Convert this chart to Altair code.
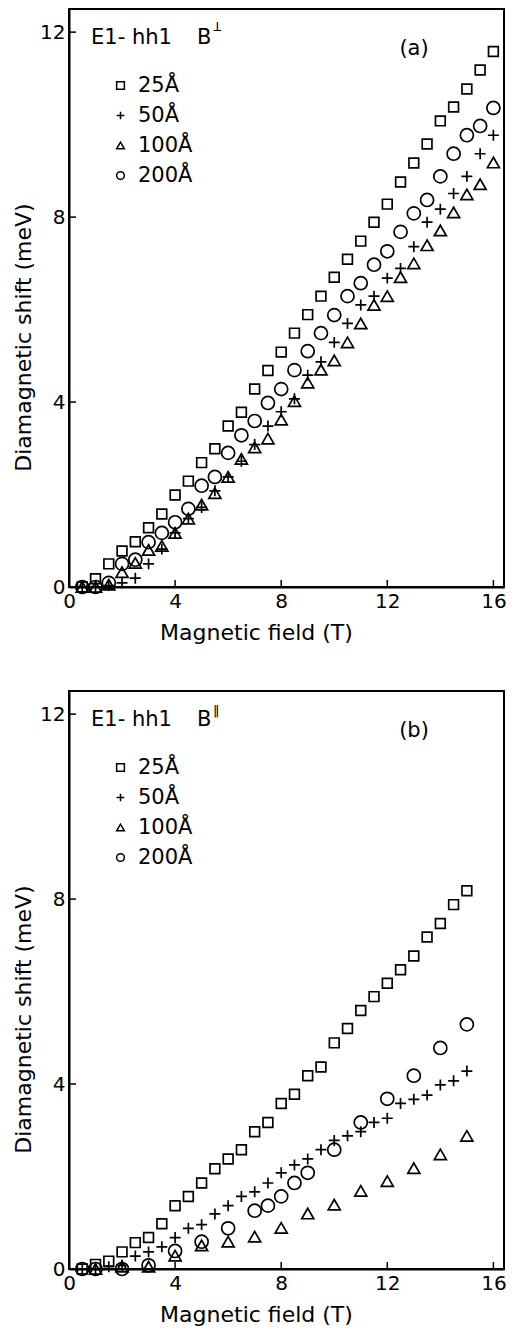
import altair as alt
import pandas as pd

FONT = "DejaVu Sans"
labels = ["25Å", "50Å", "100Å", "200Å"]

# ---------- panel (a): B perpendicular ----------
a_field = [0.5, 1.0, 1.5, 2.0, 2.5, 3.0, 3.5, 4.0, 4.5, 5.0, 5.5, 6.0, 6.5, 7.0, 7.5, 8.0,
           8.5, 9.0, 9.5, 10.0, 10.5, 11.0, 11.5, 12.0, 12.5, 13.0, 13.5, 14.0, 14.5, 15.0, 15.5, 16.0]
a_25 = [0.0, 0.18, 0.50, 0.78, 0.98, 1.28, 1.58, 1.99, 2.29, 2.69, 2.99, 3.48, 3.78, 4.28, 4.68, 5.08,
        5.49, 5.89, 6.29, 6.70, 7.09, 7.48, 7.89, 8.28, 8.76, 9.17, 9.58, 10.08, 10.38, 10.77, 11.18, 11.58]
a_50 = [0.0, 0.0, 0.03, 0.09, 0.19, 0.50, 0.82, 1.17, 1.48, 1.72, 2.08, 2.38, 2.72, 3.08, 3.48, 3.79,
        4.07, 4.58, 4.87, 5.29, 5.70, 6.10, 6.29, 6.68, 6.89, 7.36, 7.89, 8.17, 8.51, 8.88, 9.37, 9.77]
a_100 = [0.0, 0.0, 0.05, 0.32, 0.52, 0.80, 0.89, 1.17, 1.48, 1.78, 2.03, 2.38, 2.77, 3.02, 3.21, 3.62,
         4.02, 4.42, 4.70, 4.90, 5.29, 5.70, 6.10, 6.29, 6.70, 7.00, 7.39, 7.71, 8.10, 8.49, 8.71, 9.18]
a_200 = [0.0, 0.0, 0.09, 0.50, 0.59, 0.97, 1.17, 1.40, 1.69, 2.19, 2.38, 2.90, 3.28, 3.59, 3.98, 4.28,
         4.69, 5.10, 5.49, 5.88, 6.29, 6.57, 6.97, 7.26, 7.68, 8.08, 8.37, 8.88, 9.37, 9.77, 9.97, 10.36]

# ---------- panel (b): B parallel ----------
b_field_25 = [0.5, 1.0, 1.5, 2.0, 2.5, 3.0, 3.5, 4.0, 4.5, 5.0, 5.5, 6.0, 6.5, 7.0, 7.5,
              8.0, 8.5, 9.0, 9.5, 10.0, 10.5, 11.0, 11.5, 12.0, 12.5, 13.0, 13.5, 14.0, 14.5, 15.0]
b_25 = [0.0, 0.10, 0.17, 0.37, 0.57, 0.68, 0.98, 1.37, 1.57, 1.86, 2.17, 2.38, 2.58, 2.97, 3.17,
        3.58, 3.78, 4.18, 4.37, 4.89, 5.20, 5.59, 5.89, 6.18, 6.47, 6.77, 7.18, 7.47, 7.88, 8.18]
b_field_50 = [0.5, 1.0, 1.5, 2.0, 2.5, 3.0, 3.5, 4.0, 4.5, 5.0, 5.5, 6.0, 6.5, 7.0, 7.5,
              8.0, 8.5, 9.0, 9.5, 10.0, 10.5, 11.0, 11.5, 12.0, 12.5, 13.0, 13.5, 14.0, 14.5, 15.0]
b_50 = [0.0, 0.0, 0.05, 0.08, 0.28, 0.37, 0.48, 0.68, 0.88, 0.96, 1.19, 1.37, 1.57, 1.67, 1.86,
        2.08, 2.25, 2.38, 2.58, 2.78, 2.88, 2.97, 3.17, 3.26, 3.58, 3.67, 3.76, 3.98, 4.07, 4.28]
b_field_100 = [1.0, 2.0, 3.0, 4.0, 5.0, 6.0, 7.0, 8.0, 9.0, 10.0, 11.0, 12.0, 13.0, 14.0, 15.0]
b_100 = [0.0, 0.05, 0.05, 0.29, 0.51, 0.59, 0.70, 0.89, 1.20, 1.39, 1.69, 1.90, 2.18, 2.48, 2.88]
b_field_200 = [0.5, 1.0, 2.0, 3.0, 4.0, 5.0, 6.0, 7.0, 7.5, 8.0, 8.5, 9.0, 10.0, 11.0, 12.0, 13.0, 14.0, 15.0]
b_200 = [0.0, 0.0, 0.0, 0.08, 0.39, 0.59, 0.88, 1.26, 1.37, 1.57, 1.86, 2.08, 2.58, 3.17, 3.68, 4.18, 4.78, 5.29]

x_ticks = [4, 8, 12, 16]
y_ticks = [4, 8, 12]

W, H = 435, 578
X_DOM = [0, 16.4]
Y_DOM = [0, 12.5]


def frame(series):
    rows = []
    for lab, xs, ys in series:
        for xv, yv in zip(xs, ys):
            rows.append({"field": xv, "shift": yv, "series": lab})
    return pd.DataFrame(rows)


def label_text(s, size, x, y, align="left", angle=0):
    return alt.Chart(pd.DataFrame({"s": [s]})).mark_text(
        font=FONT, fontSize=size, align=align, baseline="alphabetic", color="black", angle=angle
    ).encode(text="s:N", x=alt.value(x), y=alt.value(y))


def panel(df, sup_layer, tag):
    xs = alt.Scale(domain=X_DOM, nice=False, zero=False)
    ys = alt.Scale(domain=Y_DOM, nice=False, zero=False)
    xax = alt.Axis(values=[0, 4, 8, 12, 16], title="Magnetic  field  (T)",
                   titleX=187, titleAnchor="middle", titlePadding=11)
    yax = alt.Axis(values=[0, 4, 8, 12], title="Diamagnetic  shift  (meV)",
                   titleY=328, titleAnchor="middle")
    pts = alt.Chart(df).mark_point(filled=False, color="black", strokeWidth=1.7, opacity=1).encode(
        x=alt.X("field:Q", scale=xs, axis=xax),
        y=alt.Y("shift:Q", scale=ys, axis=yax),
        shape=alt.Shape("series:N",
                        scale=alt.Scale(domain=labels,
                                        range=["square", "M-1,0L1,0M0,-1L0,1", "triangle-up", "circle"]),
                        legend=alt.Legend(title=None, orient="none", legendX=41, legendY=66)),
        size=alt.Size("series:N", scale=alt.Scale(domain=labels, range=[95, 170, 25, 60]), legend=None),
    )
    xt = alt.Chart(pd.DataFrame({"field": x_ticks})).mark_rule(color="black", strokeWidth=1.5).encode(
        x=alt.X("field:Q", scale=xs, axis=xax), y=alt.value(H), y2=alt.value(H - 7))
    yt = alt.Chart(pd.DataFrame({"shift": y_ticks})).mark_rule(color="black", strokeWidth=1.5).encode(
        y=alt.Y("shift:Q", scale=ys, axis=yax), x=alt.value(0), x2=alt.value(7))
    head = label_text("E1- hh1", 21, 22, 35)
    bt = label_text("B", 21, 128, 35)
    tg = label_text(tag, 21, 345, 46, align="center")
    return alt.layer(pts, xt, yt, head, bt, sup_layer, tg).properties(width=W, height=H)


df_a = frame([("25Å", a_field, a_25), ("50Å", a_field, a_50),
              ("100Å", a_field, a_100), ("200Å", a_field, a_200)])
df_b = frame([("25Å", b_field_25, b_25), ("50Å", b_field_50, b_50),
              ("100Å", b_field_100, b_100), ("200Å", b_field_200, b_200)])

# superscripts: perpendicular sign drawn as an upside-down T, parallel as two bars
sup_perp = label_text("T", 12, 152, 13, align="left", angle=180)
sup_par = label_text("\u2016", 13, 144, 24)

chart = alt.vconcat(
    panel(df_a, sup_perp, "(a)"),
    panel(df_b, sup_par, "(b)"),
    spacing=46,
).resolve_legend(shape="independent").properties(
    padding={"left": 3, "top": 0, "right": 0, "bottom": 0},
).configure_view(stroke="black", strokeWidth=2).configure_axis(
    labelFont=FONT, labelFontSize=20, labelColor="black", titleFont=FONT, titleFontSize=22,
    titleFontWeight="normal", titleColor="black", ticks=False, grid=False, domainColor="black",
    domainWidth=2, labelPadding=4, labelFlush=False,
).configure_legend(
    labelFont=FONT, labelFontSize=21, labelColor="black", symbolSize=60, symbolStrokeWidth=1.5,
    symbolStrokeColor="black", symbolFillColor="transparent", rowPadding=8, labelOffset=7, padding=0,
    symbolType="circle",
)

chart.save("out.html", embed_options={"renderer": "svg", "actions": False})
